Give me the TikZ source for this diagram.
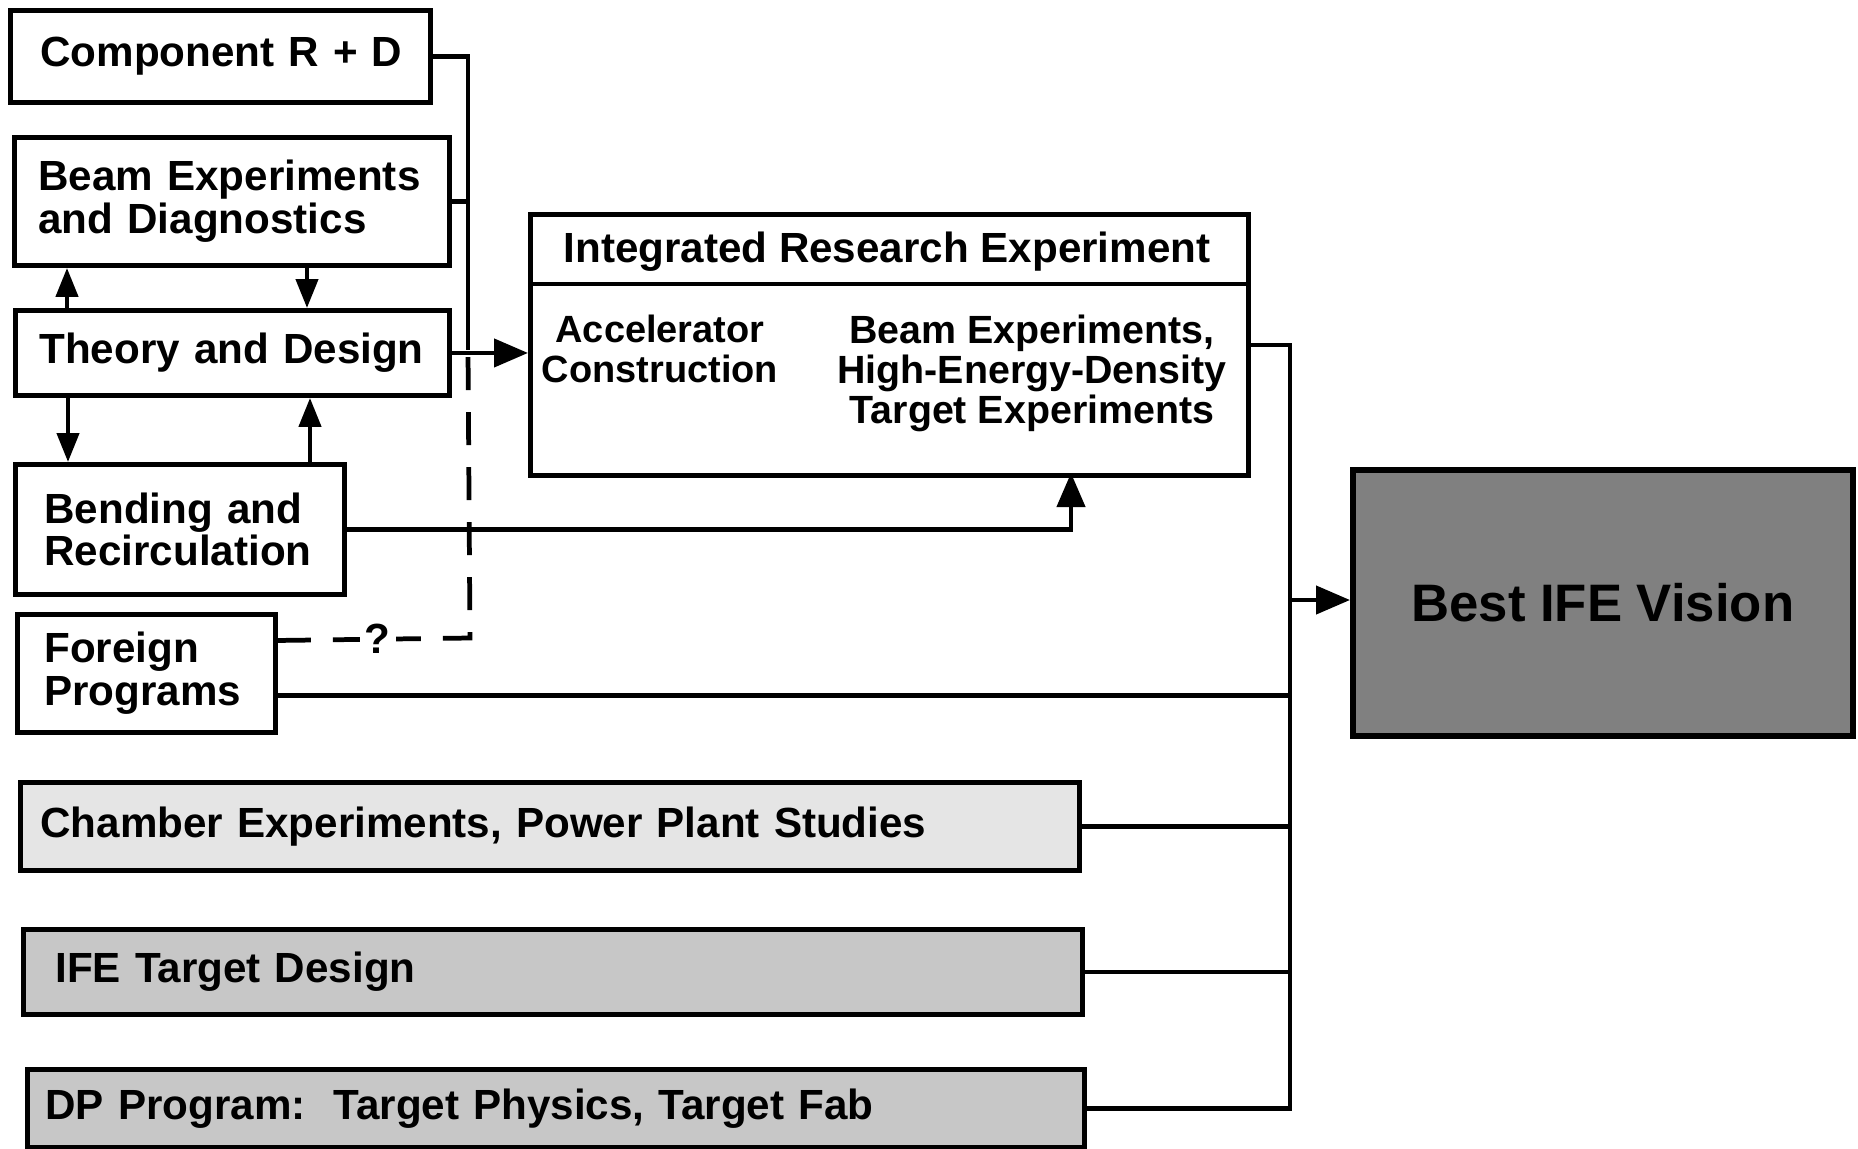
\documentclass[tikz,border=0pt]{standalone}
\usepackage{fontspec}
\setmainfont{Liberation Sans}
\usepackage{tikz}
\usetikzlibrary{arrows.meta}
\tikzstyle{block}=[draw, line width=1.4pt, anchor=north west, align=left, inner xsep=0.24cm, inner ysep=0pt, font=\bfseries\fontsize{12}{12.2}\selectfont]
\tikzstyle{gblock}=[block, fill=black!22]
\tikzstyle{itext}=[anchor=north, align=center, inner sep=0pt]
\tikzstyle{link}=[line width=1.25pt]
\tikzstyle{arr}=[link, -{Triangle[length=3.4mm, width=2.8mm]}]
\tikzstyle{sarr}=[link, -{Triangle[length=2.9mm, width=2.2mm]}]
\tikzstyle{dlink}=[line width=1.35pt, dash pattern=on 3.3mm off 2.2mm]

\begin{document}
\begin{tikzpicture}
        \useasboundingbox (0,0) rectangle (18.58,-11.48);
        \node[block, inner xsep=0.30cm, text width=3.60cm, minimum height=0.92cm] (CompRD) at (0.08,-0.08) {\mbox{Component R + D}};
        \node[block, text width=3.87cm, minimum height=1.28cm, font=\bfseries\fontsize{12}{10.8}\selectfont] (BeamExp) at (0.12,-1.35) {Beam Experiments\\and Diagnostics};
        \node[block, text width=3.86cm, minimum height=0.85cm] (Theory) at (0.13,-3.08) {Theory and Design};
        \node[block, inner xsep=0.29cm, text width=2.71cm, minimum height=1.30cm] (Bend) at (0.13,-4.62) {Bending and\\Recirculation};
        \node[block, inner xsep=0.27cm, text width=2.04cm, minimum height=1.18cm] (Foreign) at (0.15,-6.12) {Foreign\\Programs};
        \node[gblock, fill=black!10, inner xsep=0.20cm, text width=10.19cm, minimum height=0.88cm] (Chamber) at (0.18,-7.80) {Chamber Experiments, Power Plant Studies};
        \node[gblock, inner xsep=0.32cm, text width=9.95cm, minimum height=0.85cm] (IFETgt) at (0.21,-9.27) {IFE Target Design};
        \node[gblock, inner xsep=0.18cm, text width=10.21cm, minimum height=0.78cm] (DPProg) at (0.25,-10.67) {DP Program:\ \ Target Physics, Target Fab};
        \node[draw, line width=1.4pt, anchor=north west, minimum width=7.18cm, minimum height=2.61cm] (IRE) at (5.28,-2.12) {};
        \coordinate (Hd) at (5.28,-2.84);
        \draw[line width=1.4pt] (IRE.west |- Hd) -- (IRE.east |- Hd);
        \node[font=\bfseries\fontsize{12}{12}\selectfont] (IRETitle) at (8.87,-2.52) {Integrated Research Experiment};
        \node[itext, font=\bfseries\fontsize{10.8}{11.4}\selectfont] (Accel) at (6.60,-3.14) {Accelerator\\Construction};
        \node[itext, font=\bfseries\fontsize{11.2}{11.4}\selectfont] (BeamTgt) at (10.32,-3.14) {Beam Experiments,\\High-Energy-Density\\Target Experiments};
        \node[draw, line width=1.6pt, fill=black!50, anchor=north west, minimum width=5.00cm, minimum height=2.66cm, font=\bfseries\fontsize{15}{15}\selectfont] (Best) at (13.50,-4.67) {Best IFE Vision};
        \coordinate (Jn) at (4.68,-3.50);
        \coordinate (Qc) at (4.70,-6.38);
        \coordinate (IREin) at (10.71,-4.73);
        \coordinate (Trunk) at (12.90,-6.00);
        \draw[link] (CompRD.east) -| (Jn);
        \draw[link] (BeamExp.east) -- (BeamExp.east -| Jn);
        \draw[arr] (Theory.east) -- (Theory.east -| IRE.west);
        \draw[dlink] ([yshift=3.3mm]Foreign.east) -- node[pos=0.52, fill=white, inner sep=1.5pt, font=\bfseries\fontsize{12}{12}\selectfont] (Q) {?} (Qc) -- (Jn);
        \draw[arr] (Bend.east) -| (IREin);
        \draw[link] (IRE.east) -| (Trunk |- DPProg.east) -- (DPProg.east);
        \draw[link] ([yshift=-2.2mm]Foreign.east) coordinate (Fs) -- (Fs -| Trunk);
        \draw[link] (Chamber.east) -- (Chamber.east -| Trunk);
        \draw[link] (IFETgt.east) -- (IFETgt.east -| Trunk);
        \draw[arr] (Trunk) -- (Trunk -| Best.west);
        \draw[sarr] ([xshift=5.4mm]Theory.north west) coordinate (A1) -- (A1 |- BeamExp.south);
        \draw[sarr] ([xshift=2.95cm]BeamExp.south west) coordinate (A2) -- (A2 |- Theory.north);
        \draw[sarr] ([xshift=5.5mm]Theory.south west) coordinate (A3) -- (A3 |- Bend.north);
        \draw[sarr] ([xshift=2.97cm]Bend.north west) coordinate (A4) -- (A4 |- Theory.south);
    \end{tikzpicture}
\end{document}
